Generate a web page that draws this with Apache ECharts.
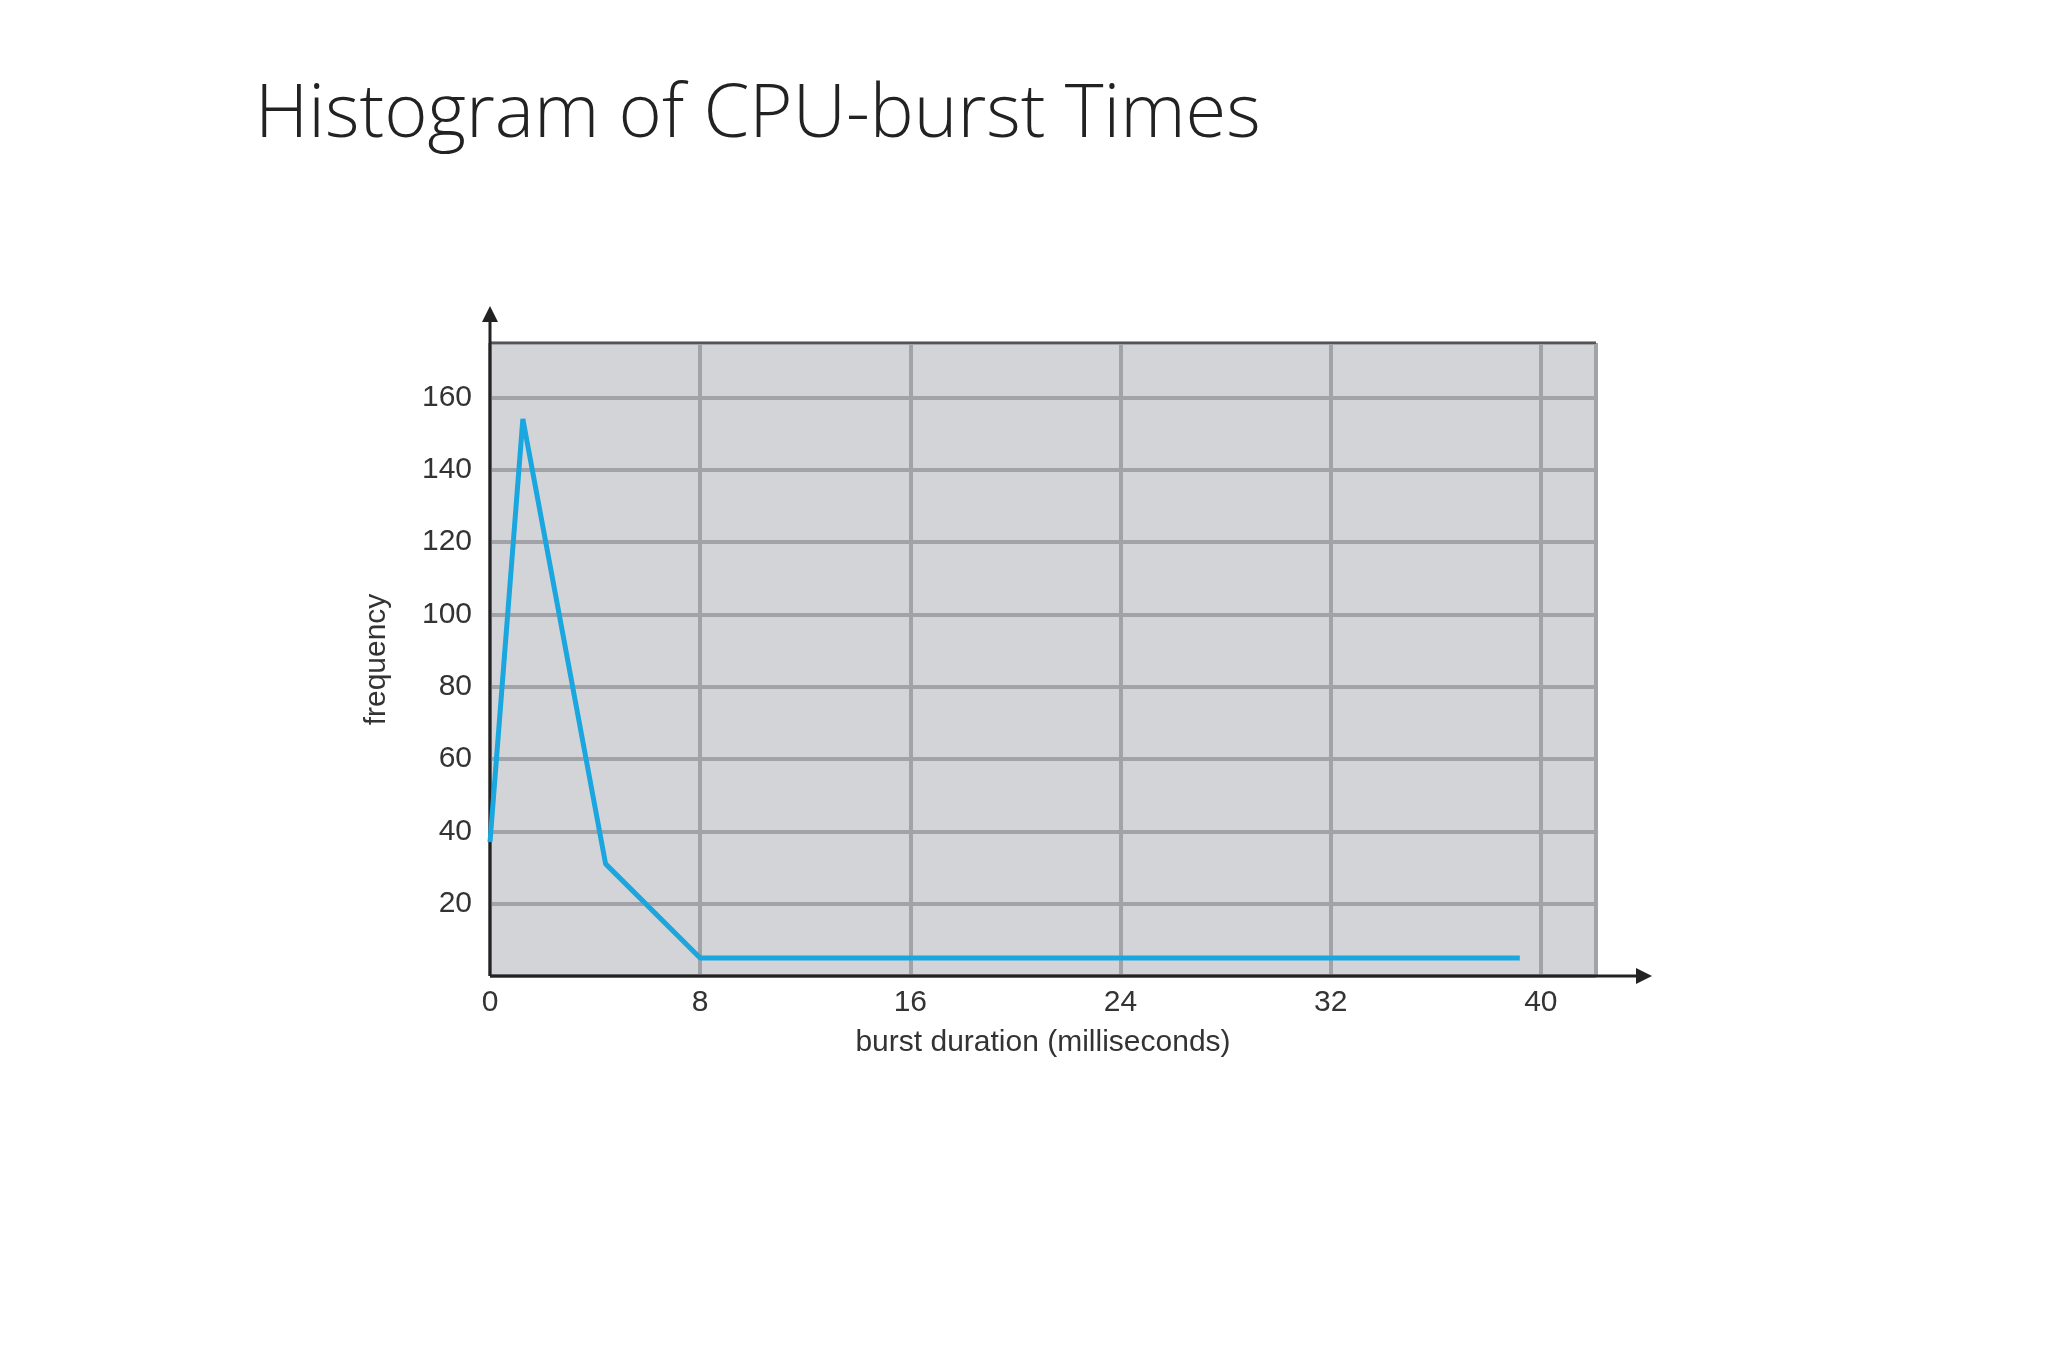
<!DOCTYPE html>
<html>
<head>
<meta charset="utf-8">
<style>html,body{margin:0;padding:0;background:#fff}#c{width:2048px;height:1365px}</style>
<script src="https://cdn.jsdelivr.net/npm/echarts@6/dist/echarts.min.js"></script>
</head>
<body>
<div id="c"></div>
<script>
const burstX = [0, 1.25, 4.4, 8, 39.2];
const frequency = [37, 154, 31, 5, 5];
const xTicks = [0, 8, 16, 24, 32, 40];

const chart = echarts.init(document.getElementById('c'));
const labelFont = {fontFamily: 'Liberation Sans', fontSize: 30, color: '#333'};
chart.setOption({
  animation: false,
  title: {
    text: 'Histogram of CPU-burst Times', left: 250, top: 74,
    textStyle: {fontFamily: 'Open Sans', fontWeight: 300, fontSize: 74, color: '#222'}
  },
  grid: {left: 490, right: 452, top: 343, bottom: 389, show: true,
    backgroundColor: '#d3d4d8', borderColor: '#555', borderWidth: 0},
  xAxis: {
    type: 'value', min: 0, max: 42.1, interval: 8,
    name: 'burst duration (milliseconds)', nameLocation: 'middle', nameGap: 52,
    nameTextStyle: labelFont,
    axisLine: {show: false}, axisTick: {show: false},
    axisLabel: Object.assign({margin: 12, showMaxLabel: false,
      formatter: v => xTicks.includes(v) ? String(v) : ''}, labelFont),
    splitLine: {lineStyle: {color: '#a2a3a8', width: 4}}
  },
  yAxis: {
    type: 'value', min: 0, max: 175, interval: 20,
    name: 'frequency', nameLocation: 'middle', nameGap: 98,
    nameTextStyle: labelFont,
    axisLine: {show: false}, axisTick: {show: false},
    axisLabel: Object.assign({margin: 18, showMinLabel: false, showMaxLabel: false}, labelFont),
    splitLine: {lineStyle: {color: '#a2a3a8', width: 4}}
  },
  series: [{
    type: 'line', data: burstX.map((x, i) => [x, frequency[i]]),
    symbol: 'none', lineStyle: {color: '#1aa6df', width: 5}
  }]
});

// axes with arrows and top border
const o = chart.convertToPixel({gridIndex: 0}, [0, 0]);
const tr = chart.convertToPixel({gridIndex: 0}, [42.1, 175]);
const ax = {stroke: '#222', lineWidth: 3};
chart.setOption({graphic: [
  {type: 'line', shape: {x1: o[0], y1: tr[1], x2: tr[0], y2: tr[1]}, style: {stroke: '#555', lineWidth: 2}},
  {type: 'line', shape: {x1: o[0], y1: o[1], x2: o[0], y2: 312}, style: ax},
  {type: 'polygon', shape: {points: [[o[0], 306], [o[0] - 8, 322], [o[0] + 8, 322]]}, style: {fill: '#222'}},
  {type: 'line', shape: {x1: o[0], y1: o[1], x2: 1646, y2: o[1]}, style: ax},
  {type: 'polygon', shape: {points: [[1652, o[1]], [1636, o[1] - 8], [1636, o[1] + 8]]}, style: {fill: '#222'}}
]});
</script>
</body>
</html>
